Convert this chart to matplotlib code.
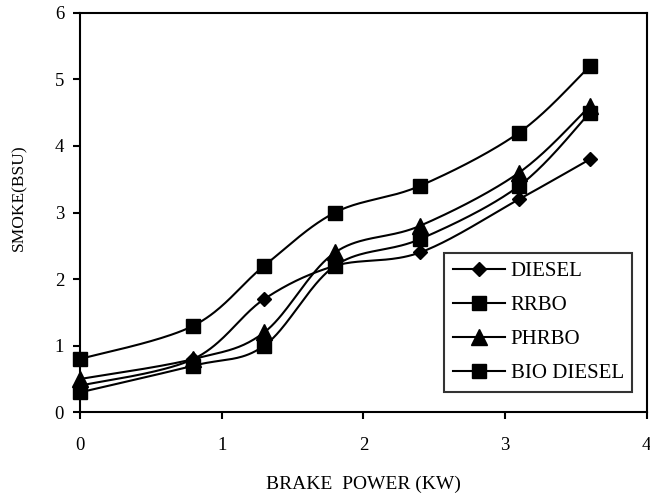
import numpy as np
import matplotlib
matplotlib.use("Agg")
import matplotlib.pyplot as plt
from matplotlib.lines import Line2D

plt.rcParams['font.family'] = ['Liberation Serif', 'DejaVu Serif']

brake_power = [0, 0.8, 1.3, 1.8, 2.4, 3.1, 3.6]
diesel = [0.4, 0.8, 1.7, 2.2, 2.4, 3.2, 3.8]
rrbo = [0.3, 0.7, 1.0, 2.2, 2.6, 3.4, 4.5]
phrbo = [0.5, 0.8, 1.2, 2.4, 2.8, 3.6, 4.6]
bio_diesel = [0.8, 1.3, 2.2, 3.0, 3.4, 4.2, 5.2]

series_names = ["DIESEL", "RRBO", "PHRBO", "BIO DIESEL"]
series_values = [diesel, rrbo, phrbo, bio_diesel]
markers = ["D", "s", "^", "s"]
msizes = [7.6, 10.5, 11.5, 10.5]


def smooth(x, y, n=40):
    """Excel-style smoothed line (cubic Bezier through points)."""
    P = np.column_stack([x, y]).astype(float)
    m = len(P)
    out = []
    for i in range(m - 1):
        p0 = P[i - 1] if i > 0 else P[i]
        p1 = P[i]
        p2 = P[i + 1]
        p3 = P[i + 2] if i + 2 < m else P[i + 1]
        c1 = p1 + (p2 - p0) / 6.0
        c2 = p2 - (p3 - p1) / 6.0
        t = np.linspace(0, 1, n)[:, None]
        seg = ((1 - t) ** 3) * p1 + 3 * ((1 - t) ** 2) * t * c1 + 3 * (1 - t) * t ** 2 * c2 + t ** 3 * p2
        if i > 0:
            seg = seg[1:]
        out.append(seg)
    S = np.vstack(out)
    return S[:, 0], S[:, 1]


fig = plt.figure(figsize=(6.5, 4.99), dpi=100)
ax = fig.add_axes([0.1231, 0.1737, 0.8717, 0.8008])

handles = []
for name, vals, mk, ms in zip(series_names, series_values, markers, msizes):
    sx, sy = smooth(brake_power, vals)
    ax.plot(sx, sy, color='black', lw=1.5, zorder=2, clip_on=False)
    ax.plot(brake_power, vals, linestyle='none', marker=mk, markersize=ms,
            color='black', zorder=3, clip_on=False)
    handles.append(Line2D([], [], color='black', lw=1.5, marker=mk, markersize=ms))

ax.set_xlim(0, 4)
ax.set_ylim(0, 6)
ax.set_xticks([0, 1, 2, 3, 4])
ax.set_yticks([0, 1, 2, 3, 4, 5, 6])
ax.tick_params(axis='both', direction='out', length=5, width=1.5, labelsize=13.5)
ax.tick_params(axis='x', pad=13)
ax.tick_params(axis='y', pad=6.5)
for sp in ax.spines.values():
    sp.set_linewidth(1.5)
    sp.set_color('black')

ax.set_xlabel("BRAKE  POWER (KW)", fontsize=14)
ax.xaxis.set_label_coords(0.5, -0.158)
ax.set_ylabel("SMOKE(BSU)", fontsize=12.5)
ax.yaxis.set_label_coords(-0.0927, 0.536)

leg = fig.legend(handles, series_names, loc='lower right',
                 bbox_to_anchor=(0.9728, 0.2150), bbox_transform=fig.transFigure,
                 fontsize=15, frameon=True, fancybox=False, edgecolor='black',
                 handlelength=2.5, handletextpad=0.3, labelspacing=0.7,
                 borderpad=0.4, borderaxespad=0)
leg.get_frame().set_linewidth(1.5)

fig.savefig("out.png", dpi=100)
